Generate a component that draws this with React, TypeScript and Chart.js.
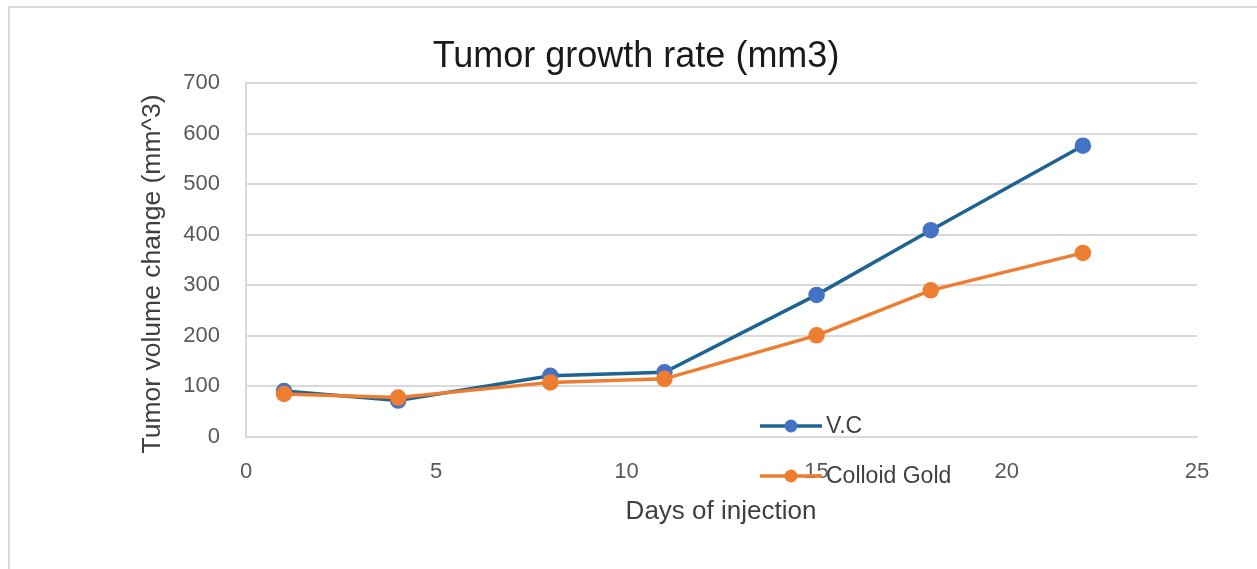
import React, { useEffect, useRef } from "react";
import { Chart, registerables } from "chart.js";

Chart.register(...registerables);

const chartTitle = "Tumor growth rate (mm3)";
const xTitle = "Days of injection";
const yTitle = "Tumor volume change (mm^3)";
const days = [1, 4, 8, 11, 15, 18, 22];
const vcValues = [91, 72, 121, 128, 281, 409, 576];
const goldValues = [85, 78, 108, 115, 201, 290, 364];
const seriesNames = ["V.C", "Colloid Gold"];
const xTicks = [0, 5, 10, 15, 20, 25];
const yTicks = [0, 100, 200, 300, 400, 500, 600, 700];

const FONT = "'Liberation Sans', Arial, sans-serif";

const textPlugin = {
  id: "customTexts",
  afterDraw(chart: any) {
    const ctx = chart.ctx;
    ctx.save();
    ctx.textAlign = "center";
    ctx.textBaseline = "middle";
    ctx.fillStyle = "#1a1a1a";
    ctx.font = `36px ${FONT}`;
    ctx.fillText(chartTitle, 636, 57);
    ctx.fillStyle = "#404040";
    ctx.font = `26px ${FONT}`;
    ctx.fillText(xTitle, 721, 512);
    ctx.translate(153, 274);
    ctx.rotate(-Math.PI / 2);
    ctx.font = `26.5px ${FONT}`;
    ctx.fillText(yTitle, 0, 0);
    ctx.restore();
  },
};

const legendPlugin = {
  id: "customLegend",
  afterDatasetsDraw(chart: any) {
    const ctx = chart.ctx;
    const items = [
      { ds: chart.data.datasets[0], y: 426 },
      { ds: chart.data.datasets[1], y: 476 },
    ];
    ctx.save();
    items.forEach((it) => {
      const x0 = 760;
      const x1 = 822;
      ctx.strokeStyle = it.ds.borderColor;
      ctx.lineWidth = 3.5;
      ctx.beginPath();
      ctx.moveTo(x0, it.y);
      ctx.lineTo(x1, it.y);
      ctx.stroke();
      ctx.fillStyle = it.ds.pointBackgroundColor;
      ctx.beginPath();
      ctx.arc((x0 + x1) / 2, it.y, 6.5, 0, Math.PI * 2);
      ctx.fill();
      ctx.fillStyle = "#404040";
      ctx.font = `23px ${FONT}`;
      ctx.textBaseline = "middle";
      ctx.textAlign = "left";
      ctx.fillText(it.ds.label, x1 + 4, it.y + 1);
    });
    ctx.restore();
  },
};

export default function App() {
  const ref = useRef<HTMLCanvasElement | null>(null);
  useEffect(() => {
    if (!ref.current) return;
    const chart = new Chart(ref.current, {
      type: "scatter",
      data: {
        datasets: [
          {
            label: seriesNames[0],
            data: days.map((d, i) => ({ x: d, y: vcValues[i] })),
            showLine: true,
            borderColor: "#1f6391",
            backgroundColor: "#4472c4",
            pointBackgroundColor: "#4472c4",
            pointBorderColor: "#4472c4",
            borderWidth: 3.5,
            pointRadius: 6.5,
            order: 1,
          },
          {
            label: seriesNames[1],
            data: days.map((d, i) => ({ x: d, y: goldValues[i] })),
            showLine: true,
            borderColor: "#ed7d31",
            backgroundColor: "#ed7d31",
            pointBackgroundColor: "#ed7d31",
            pointBorderColor: "#ed7d31",
            borderWidth: 3.5,
            pointRadius: 6.5,
            order: 0,
          },
        ],
      },
      options: {
        animation: false,
        responsive: false,
        layout: { padding: { left: 141, right: 60, top: 83, bottom: 46 } },
        plugins: {
          legend: { display: false },
          tooltip: { enabled: false },
          title: { display: false },
        },
        scales: {
          x: {
            type: "linear",
            min: 0,
            max: 25,
            afterBuildTicks: (s: any) => {
              s.ticks = xTicks.map((v) => ({ value: v }));
            },
            afterFit: (s: any) => {
              s.height = 86;
            },
            grid: { display: false, drawTicks: false },
            border: { display: true, color: "#d9d9d9", width: 2 },
            ticks: { color: "#595959", font: { family: FONT, size: 22 }, padding: 22 },
            title: { display: false },
          },
          y: {
            type: "linear",
            min: 0,
            max: 700,
            afterBuildTicks: (s: any) => {
              s.ticks = yTicks.map((v) => ({ value: v }));
            },
            afterFit: (s: any) => {
              s.width = 105;
            },
            grid: { color: "#d9d9d9", lineWidth: 2, drawTicks: false },
            border: { display: true, color: "#d9d9d9", width: 2 },
            ticks: { color: "#595959", font: { family: FONT, size: 22 }, padding: 26 },
            title: { display: false },
          },
        },
      },
      plugins: [legendPlugin, textPlugin],
    });
    return () => chart.destroy();
  }, []);
  return (
    <div style={{ position: "fixed", left: 0, top: 0, width: 1257, height: 569, overflow: "hidden", background: "#fff" }}>
      <div
        style={{
          position: "absolute",
          left: 8,
          top: 6,
          width: 1300,
          height: 600,
          borderLeft: "2px solid #d9d9d9",
          borderTop: "2px solid #d9d9d9",
        }}
      />
      <canvas ref={ref} width={1257} height={569} style={{ position: "absolute", left: 0, top: 0 }} />
    </div>
  );
}
